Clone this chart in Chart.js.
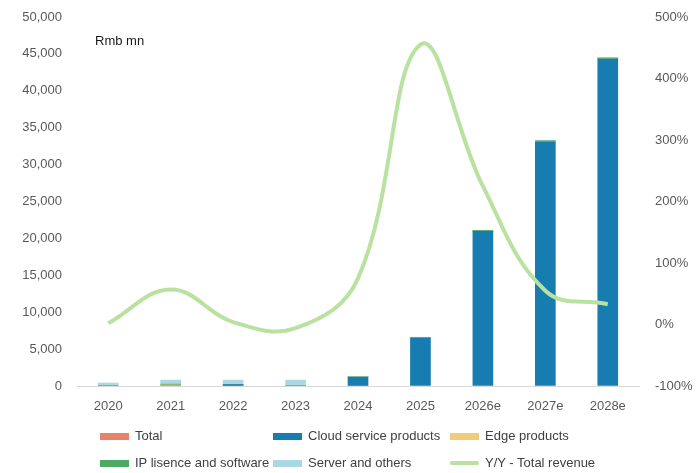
<!DOCTYPE html>
<html>
<head>
<meta charset="utf-8">
<script src="https://cdn.jsdelivr.net/npm/chart.js@4"></script>
<style>
  body { margin: 0; background: #fff; }
  #wrap { position: relative; width: 697px; height: 473px; font-family: 'Liberation Sans', Arial, sans-serif; }
  #unit { position: absolute; left: 95px; top: 33px; font-size: 13px; color: #1a1a1a; }
  .lg { position: absolute; font-size: 13px; color: #404040; white-space: nowrap; }
  .sw { position: absolute; width: 29px; height: 7px; }
</style>
</head>
<body>
<div id="wrap">
  <canvas id="myChart" width="697" height="473"></canvas>
  <div id="unit">Rmb mn</div>
  <div id="legend"></div>
</div>
<script>
const categories = ['2020', '2021', '2022', '2023', '2024', '2025', '2026e', '2027e', '2028e'];
const total = [null, null, null, null, null, null, null, null, null];
const cloudService = [0, 0, 200, 0, 1200, 6500, 20950, 33100, 44300];
const edgeProducts = [0, 150, 0, 0, 0, 0, 0, 0, 0];
const ipLicence = [0, 100, 0, 0, 50, 100, 130, 140, 160];
const serverOthers = [400, 550, 600, 800, 0, 0, 0, 0, 0];
const yoyRevenue = [0.02, 0.57, 0.04, -0.06, 0.75, 4.55, 2.25, 0.55, 0.33];

const leftTicks = { min: 0, max: 50000, step: 5000 };
const rightTicks = { min: -1, max: 5, step: 1 };

const tickFont = { family: "'Liberation Sans', Arial, sans-serif", size: 13 };
const tickColor = '#595959';

const ctx = document.getElementById('myChart').getContext('2d');

// hidden tick marks give the label gap without the extra top padding
const hiddenTicks = (len) => ({
    display: true,
    drawOnChartArea: false,
    drawTicks: true,
    tickLength: len,
    tickColor: 'rgba(0,0,0,0)',
    color: 'rgba(0,0,0,0)',
});

const data = {
    labels: categories,
    datasets: [
        { label: 'Total', data: total, backgroundColor: '#e8836b', yAxisID: 'y', order: 1, barThickness: 20 },
        { label: 'Cloud service products', data: cloudService, backgroundColor: '#177cb0', yAxisID: 'y', order: 1, barThickness: 20 },
        { label: 'Edge products', data: edgeProducts, backgroundColor: '#f0cb7c', yAxisID: 'y', order: 1, barThickness: 20 },
        { label: 'IP lisence and software', data: ipLicence, backgroundColor: '#4caa64', yAxisID: 'y', order: 1, barThickness: 20 },
        { label: 'Server and others', data: serverOthers, backgroundColor: '#a9d8e2', yAxisID: 'y', order: 1, barThickness: 20 },
        {
            type: 'line',
            label: 'Y/Y - Total revenue',
            data: yoyRevenue,
            borderColor: '#b9e2a0',
            borderWidth: 4,
            pointRadius: 0,
            tension: 0.4,
            yAxisID: 'y1',
            order: 0,
        },
    ],
};

const config = {
    type: 'bar',
    data: data,
    options: {
        responsive: false,
        animation: false,
        layout: { padding: { top: 17, right: 0, left: 0, bottom: 0 } },
        plugins: {
            legend: { display: false },
            tooltip: { enabled: false },
        },
        scales: {
            x: {
                stacked: true,
                grid: { display: false, drawTicks: false },
                border: { display: true, color: '#d9d9d9', width: 1 },
                ticks: { font: tickFont, color: tickColor, padding: 13, maxRotation: 0 },
                afterFit: (scale) => { scale.height = 87; },
            },
            y: {
                stacked: true,
                position: 'left',
                min: leftTicks.min,
                max: leftTicks.max,
                grid: hiddenTicks(12),
                border: { display: false },
                ticks: {
                    stepSize: leftTicks.step,
                    font: tickFont,
                    color: tickColor,
                    padding: 3,
                    callback: (v) => v.toLocaleString('en-US'),
                },
                afterFit: (scale) => { scale.width = 77; },
            },
            y1: {
                position: 'right',
                min: rightTicks.min,
                max: rightTicks.max,
                grid: hiddenTicks(13),
                border: { display: false },
                ticks: {
                    stepSize: rightTicks.step,
                    font: tickFont,
                    color: tickColor,
                    padding: 3,
                    callback: (v) => Math.round(v * 100) + '%',
                },
                afterFit: (scale) => { scale.width = 58; },
            },
        },
    },
};

const chart = new Chart(ctx, config);

// legend laid out like the original, two rows of three
const legendSpots = [
    { x: 100, y: 436 }, { x: 273, y: 436 }, { x: 450, y: 436 },
    { x: 100, y: 463 }, { x: 273, y: 463 }, { x: 450, y: 463 },
];
const legendBox = document.getElementById('legend');
chart.data.datasets.forEach((ds, i) => {
    const spot = legendSpots[i];
    const sw = document.createElement('div');
    sw.className = 'sw';
    sw.style.left = spot.x + 'px';
    if (ds.type === 'line') {
        sw.style.top = (spot.y - 2) + 'px';
        sw.style.height = '4px';
        sw.style.borderRadius = '2px';
        sw.style.background = ds.borderColor;
    } else {
        sw.style.top = (spot.y - 3) + 'px';
        sw.style.background = ds.backgroundColor;
    }
    legendBox.appendChild(sw);
    const tx = document.createElement('div');
    tx.className = 'lg';
    tx.textContent = ds.label;
    tx.style.left = (spot.x + 35) + 'px';
    tx.style.top = (spot.y - 8) + 'px';
    legendBox.appendChild(tx);
});
</script>
</body>
</html>
